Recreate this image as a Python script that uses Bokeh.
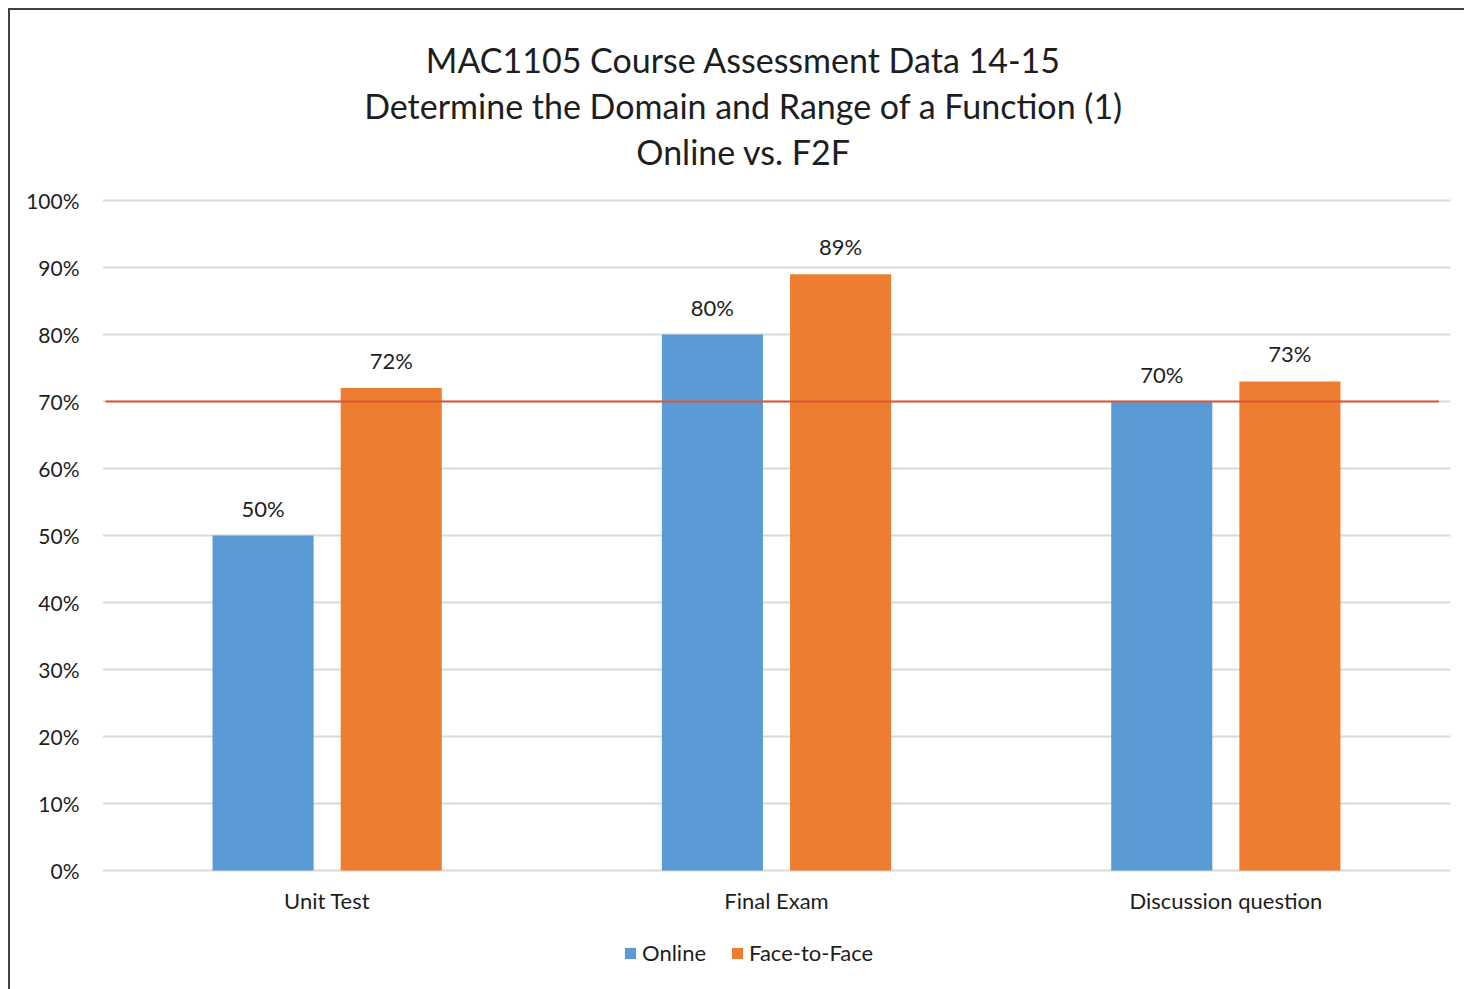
from bokeh.plotting import figure
from bokeh.models import (FactorRange, Range1d, Legend, LegendItem, Label,
                          NumeralTickFormatter, FixedTicker, ColumnDataSource)
from bokeh.transform import dodge
from bokeh.embed import file_html
from bokeh.resources import INLINE
from bokeh.core.properties import value

categories = ["Unit Test", "Final Exam", "Discussion question"]
online = [0.50, 0.80, 0.70]
face_to_face = [0.72, 0.89, 0.73]
online_labels = ["50%", "80%", "70%"]
f2f_labels = ["72%", "89%", "73%"]
target = 0.70
y_ticks = [0.0, 0.1, 0.2, 0.3, 0.4, 0.5, 0.6, 0.7, 0.8, 0.9, 1.0]
title_lines = ["MAC1105 Course Assessment Data 14-15",
               "Determine the Domain and Range of a Function (1)",
               "Online vs. F2F"]
series_names = ["Online", "Face-to-Face"]

BLUE = "#5B9BD5"
ORANGE = "#ED7D31"
FONT = "Lato"
TXT = "#1e1e1e"

# pixel layout: the frame covers the whole canvas height so that titles,
# category labels and the legend can live inside it (annotations are clipped)
FRAME_TOP, ZERO_Y, HUNDRED_Y, FRAME_BOTTOM = 30, 870, 200, 991
PX_PER_UNIT = ZERO_Y - HUNDRED_Y
y_start = -(FRAME_BOTTOM - ZERO_Y) / PX_PER_UNIT
y_end = (ZERO_Y - FRAME_TOP) / PX_PER_UNIT

src = ColumnDataSource(data=dict(cat=categories, online=online, f2f=face_to_face,
                                 ol=online_labels, fl=f2f_labels))
tgt = ColumnDataSource(data=dict(c0=[categories[0]], c1=[categories[-1]], y=[target]))

p = figure(width=1456, height=981, x_range=FactorRange(*categories, range_padding=0),
           y_range=Range1d(y_start, y_end), output_backend="svg",
           toolbar_location=None, x_axis_location=None,
           min_border_left=92, min_border_right=16, min_border_top=20,
           min_border_bottom=0)
p.styles = {"border-left": "2px solid #3f3f46", "border-top": "2px solid #3f3f46",
            "margin-left": "8px", "margin-top": "8px"}
p.outline_line_color = None

OFF = 0.1426
W = 0.225
r_on = p.vbar(x=dodge("cat", -OFF, range=p.x_range), top="online", width=W,
              source=src, fill_color=BLUE, line_color=None)
r_ff = p.vbar(x=dodge("cat", OFF, range=p.x_range), top="f2f", width=W,
              source=src, fill_color=ORANGE, line_color=None)

lab_kw = dict(text_font=value(FONT), text_font_size="22px", text_color=TXT,
              text_align="center", text_baseline="bottom", y_offset=-14, source=src)
p.text(x=dodge("cat", -OFF, range=p.x_range), y="online", text="ol", **lab_kw)
p.text(x=dodge("cat", OFF, range=p.x_range), y="f2f", text="fl", **lab_kw)

# category labels under the 0% line
p.text(x="cat", y=0, text="cat", source=src, text_font=value(FONT),
       text_font_size="22px", text_color=TXT, text_align="center",
       text_baseline="middle", y_offset=30)

p.segment(x0=dodge("c0", -0.493, range=p.x_range), y0="y",
          x1=dodge("c1", 0.474, range=p.x_range), y1="y",
          source=tgt, line_color="#DE5535", line_width=2)

# y axis
p.yaxis.ticker = FixedTicker(ticks=y_ticks)
p.yaxis.formatter = NumeralTickFormatter(format="0%")
p.yaxis.axis_line_color = None
p.yaxis.major_tick_line_color = None
p.yaxis.minor_tick_line_color = None
p.yaxis.major_label_text_font = FONT
p.yaxis.major_label_text_font_size = "21px"
p.yaxis.major_label_text_color = TXT
p.yaxis.major_label_standoff = 17

p.xgrid.grid_line_color = None
p.ygrid.grid_line_color = "#d9d9d9"
p.ygrid.grid_line_width = 2
p.ygrid.ticker = FixedTicker(ticks=y_ticks)

# title lines (screen units relative to frame, y measured up from frame bottom)
title_y = [FRAME_BOTTOM - 59, FRAME_BOTTOM - 105, FRAME_BOTTOM - 151]
for t, ty in zip(title_lines, title_y):
    p.add_layout(Label(x=641, y=ty, x_units="screen", y_units="screen",
                       text=t, text_font=FONT, text_font_size="34px",
                       text_color=TXT, text_align="center", text_baseline="middle"))

legend = Legend(items=[LegendItem(label=series_names[0], renderers=[r_on]),
                       LegendItem(label=series_names[1], renderers=[r_ff])],
                orientation="horizontal", location=(521, FRAME_BOTTOM - 966),
                glyph_width=14, glyph_height=14, label_height=20,
                label_standoff=5, spacing=24, padding=0, margin=0,
                border_line_color=None, background_fill_alpha=0,
                label_text_font=FONT, label_text_font_size="22px",
                label_text_color=TXT)
p.add_layout(legend, "center")

open("out.html", "w").write(file_html(p, INLINE))
